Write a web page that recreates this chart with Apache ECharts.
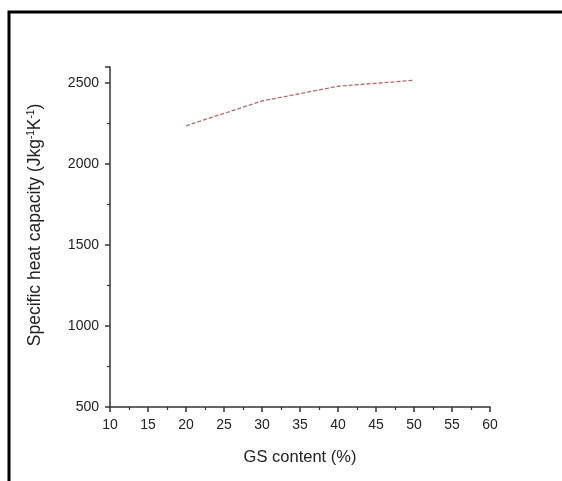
<!DOCTYPE html>
<html>
<head>
<meta charset="utf-8">
<script src="https://cdn.jsdelivr.net/npm/echarts@6/dist/echarts.min.js"></script>
<style>html,body{margin:0;padding:0;background:#fff}#c{width:562px;height:481px}</style>
</head>
<body>
<div id="c"></div>
<script>
const gsContent = [20, 30, 40, 50];
const specificHeat = [2237, 2390, 2481, 2518];
const xTicks = [10, 15, 20, 25, 30, 35, 40, 45, 50, 55, 60];
const yTicks = [500, 1000, 1500, 2000, 2500];

const chart = echarts.init(document.getElementById('c'), null, {renderer: 'canvas'});
const axisFont = 'Liberation Sans, Arial, sans-serif';
chart.setOption({
  animation: false,
  backgroundColor: '#fff',
  grid: {left: 110, right: 72, top: 67, bottom: 74},
  xAxis: {
    type: 'value', min: 10, max: 60, interval: 5,
    name: 'GS content (%)', nameLocation: 'middle', nameGap: 42,
    nameTextStyle: {fontFamily: axisFont, fontSize: 16.5, color: '#222'},
    axisLine: {show: true, onZero: false, lineStyle: {color: '#333', width: 1.5}},
    axisTick: {show: true, inside: false, length: 5, lineStyle: {color: '#333', width: 1.5}},
    minorTick: {show: true, splitNumber: 2, length: 3, lineStyle: {color: '#333', width: 1.2}},
    splitLine: {show: false},
    axisLabel: {fontFamily: axisFont, fontSize: 14, color: '#222', margin: 11,
      formatter: v => xTicks.includes(v) ? String(v) : ''}
  },
  yAxis: {
    type: 'value', min: 500, max: 2600, interval: 500,
    name: 'Specific heat capacity (Jkg{s|-1}K{s|-1})', nameLocation: 'middle', nameGap: 66,
    nameRotate: 90,
    nameTextStyle: {fontFamily: axisFont, fontSize: 17.5, color: '#222', padding: [0, 0, 0, 24],
      rich: {s: {fontFamily: axisFont, fontSize: 10, color: '#222', verticalAlign: 'top', padding: [0, 0, 8, 0]}}},
    axisLine: {show: true, onZero: false, lineStyle: {color: '#333', width: 1.5}},
    axisTick: {show: true, inside: false, length: 5, lineStyle: {color: '#333', width: 1.5}},
    minorTick: {show: true, splitNumber: 2, length: 3, lineStyle: {color: '#333', width: 1.2}},
    splitLine: {show: false},
    axisLabel: {fontFamily: axisFont, fontSize: 14, color: '#222', margin: 11,
      formatter: v => yTicks.includes(v) ? String(v) : ''}
  },
  series: [{
    type: 'line',
    data: gsContent.map((x, i) => [x, specificHeat[i]]),
    symbol: 'none',
    smooth: false,
    lineStyle: {color: '#b86a68', width: 1.3, type: [4, 2]}
  }],
  graphic: [{
    type: 'rect',
    shape: {x: 9, y: 12, width: 700, height: 600},
    style: {fill: null, stroke: '#000', lineWidth: 3},
    silent: true
  }]
});
</script>
</body>
</html>
